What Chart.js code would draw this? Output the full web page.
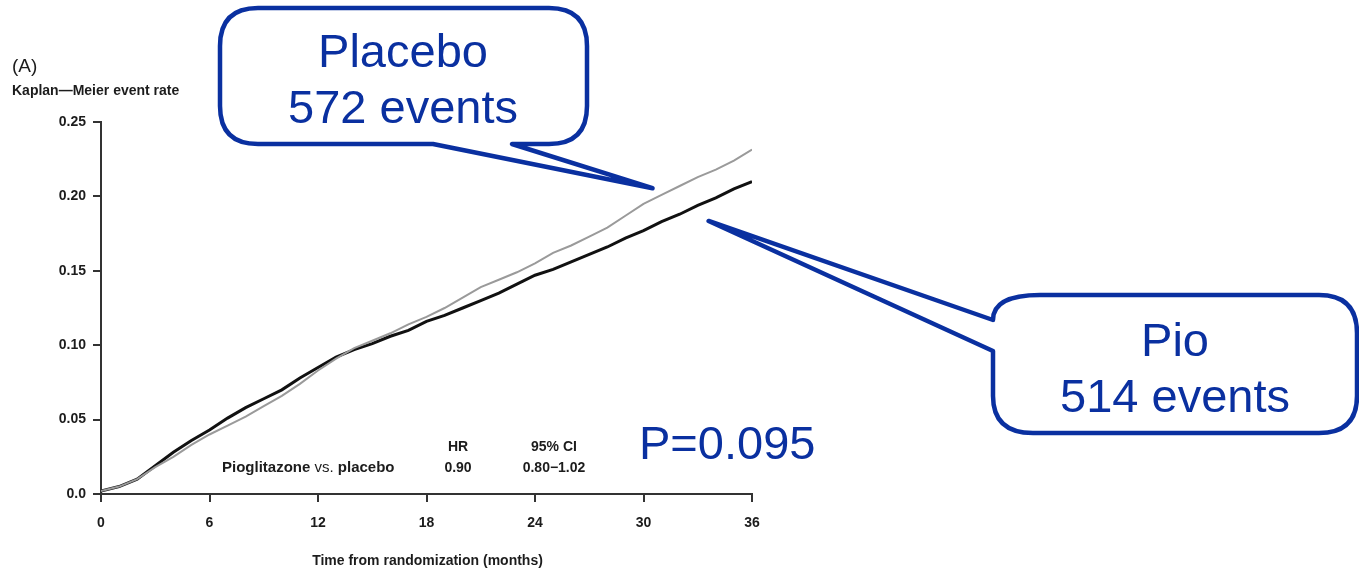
<!DOCTYPE html>
<html>
<head>
<meta charset="utf-8">
<title>Kaplan–Meier event rate: Pioglitazone vs placebo</title>
<script src="https://cdn.jsdelivr.net/npm/chart.js@4"></script>
<style>
  html, body { margin: 0; padding: 0; background: #ffffff; }
  #wrap { width: 1359px; height: 572px; position: relative; }
</style>
</head>
<body>
<div id="wrap"><canvas id="km" width="1359" height="572"></canvas></div>
<script>
// Follow-up time (months)
const months = [0, 1, 2, 3, 4, 5, 6, 7, 8, 9, 10, 11, 12, 13, 14, 15, 16, 17, 18,
                19, 20, 21, 22, 23, 24, 25, 26, 27, 28, 29, 30, 31, 32, 33, 34, 35, 36];

// Kaplan–Meier cumulative event rate, pioglitazone arm
const pioRate = [0.002, 0.005, 0.010, 0.019, 0.028, 0.036, 0.043, 0.051, 0.058, 0.064,
                 0.070, 0.078, 0.085, 0.092, 0.097, 0.101, 0.106, 0.110, 0.116, 0.120,
                 0.125, 0.130, 0.135, 0.141, 0.147, 0.151, 0.156, 0.161, 0.166, 0.172,
                 0.177, 0.183, 0.188, 0.194, 0.199, 0.205, 0.210];

// Kaplan–Meier cumulative event rate, placebo arm
const placeboRate = [0.002, 0.005, 0.010, 0.018, 0.025, 0.033, 0.040, 0.046, 0.052, 0.059,
                     0.066, 0.074, 0.083, 0.091, 0.098, 0.103, 0.108, 0.114, 0.119, 0.125,
                     0.132, 0.139, 0.144, 0.149, 0.155, 0.162, 0.167, 0.173, 0.179, 0.187,
                     0.195, 0.201, 0.207, 0.213, 0.218, 0.224, 0.2315];

const xTickValues = [0, 6, 12, 18, 24, 30, 36];
const yTickValues = [0, 0.05, 0.10, 0.15, 0.20, 0.25];
const yTickLabels = ['0.0', '0.05', '0.10', '0.15', '0.20', '0.25'];

const seriesNames = ['Pio', 'Placebo'];
const eventCounts = [514, 572];
const hazardRatio = '0.90';
const confInterval = '0.80\u22121.02';
const pValue = 'P=0.095';

const INK = '#1c1c1c';
const BLUE = '#0a30a0';

function toPoints(xs, ys) {
  return xs.map((x, i) => ({ x: x, y: ys[i] }));
}

// Text and call-out bubbles drawn on top of the plot
const annotationsPlugin = {
  id: 'kmAnnotations',
  afterDraw(chart) {
    const ctx = chart.ctx;
    const area = chart.chartArea;
    ctx.save();
    ctx.fillStyle = INK;
    ctx.textBaseline = 'middle';

    // panel letter and y-axis caption
    ctx.textAlign = 'left';
    ctx.font = '19px "Liberation Sans", Arial, sans-serif';
    ctx.fillText('(A)', 12, 67);
    ctx.font = 'bold 14px "Liberation Sans", Arial, sans-serif';
    ctx.fillText('Kaplan\u2014Meier event rate', 12, 91);

    // x-axis caption
    ctx.textAlign = 'center';
    ctx.font = 'bold 14px "Liberation Sans", Arial, sans-serif';
    ctx.fillText('Time from randomization (months)', (area.left + area.right) / 2 + 1, 561);

    // comparison table
    const rowA = 447, rowB = 468;
    ctx.font = 'bold 14px "Liberation Sans", Arial, sans-serif';
    ctx.fillText('HR', 458, rowA);
    ctx.fillText(hazardRatio, 458, rowB);
    ctx.fillText('95% CI', 554, rowA);
    ctx.fillText(confInterval, 554, rowB);

    ctx.textAlign = 'left';
    let x = 222;
    const parts = [['Pioglitazone ', 'bold'], ['vs. ', 'normal'], ['placebo', 'bold']];
    parts.forEach(([t, w]) => {
      ctx.font = w + ' 15px "Liberation Sans", Arial, sans-serif';
      ctx.fillText(t, x, rowB);
      x += ctx.measureText(t).width;
    });

    // p-value
    ctx.fillStyle = BLUE;
    ctx.textBaseline = 'alphabetic';
    ctx.font = '47px "Liberation Sans", Arial, sans-serif';
    ctx.fillText(pValue, 639, 459);

    // call-out bubbles
    ctx.strokeStyle = BLUE;
    ctx.lineWidth = 4.5;
    ctx.lineJoin = 'round';

    // placebo bubble, pointer leaves from the bottom edge
    const tipPlacebo = [chart.scales.x.getPixelForValue(30.5), chart.scales.y.getPixelForValue(0.2055)];
    ctx.beginPath();
    ctx.moveTo(512, 144);
    ctx.lineTo(549, 144);
    ctx.quadraticCurveTo(587, 144, 587, 106);
    ctx.lineTo(587, 46);
    ctx.quadraticCurveTo(587, 8, 549, 8);
    ctx.lineTo(258, 8);
    ctx.quadraticCurveTo(220, 8, 220, 46);
    ctx.lineTo(220, 106);
    ctx.quadraticCurveTo(220, 144, 258, 144);
    ctx.lineTo(433, 144);
    ctx.lineTo(tipPlacebo[0], tipPlacebo[1]);
    ctx.closePath();
    ctx.fillStyle = '#ffffff';
    ctx.fill();
    ctx.stroke();

    // pioglitazone bubble, pointer leaves from the left edge
    const tipPio = [chart.scales.x.getPixelForValue(33.6), chart.scales.y.getPixelForValue(0.1835)];
    ctx.beginPath();
    ctx.moveTo(993, 351);
    ctx.lineTo(993, 396);
    ctx.quadraticCurveTo(993, 433, 1033, 433);
    ctx.lineTo(1319, 433);
    ctx.quadraticCurveTo(1357, 433, 1357, 396);
    ctx.lineTo(1357, 333);
    ctx.quadraticCurveTo(1357, 295, 1319, 295);
    ctx.lineTo(1040, 295);
    ctx.quadraticCurveTo(993, 295, 993, 320);
    ctx.lineTo(tipPio[0], tipPio[1]);
    ctx.closePath();
    ctx.fill();
    ctx.stroke();

    ctx.fillStyle = BLUE;
    ctx.textAlign = 'center';
    ctx.font = '47px "Liberation Sans", Arial, sans-serif';
    ctx.fillText(seriesNames[1], 403, 67);
    ctx.fillText(eventCounts[1] + ' events', 403, 123);
    ctx.fillText(seriesNames[0], 1175, 356);
    ctx.fillText(eventCounts[0] + ' events', 1175, 412);

    ctx.restore();
  }
};

new Chart(document.getElementById('km'), {
  type: 'line',
  data: {
    datasets: [
      {
        label: seriesNames[1],
        data: toPoints(months, placeboRate),
        borderColor: '#9a9a9a',
        borderWidth: 2,
        pointRadius: 0,
        tension: 0,
        fill: false
      },
      {
        label: seriesNames[0],
        data: toPoints(months, pioRate),
        borderColor: '#111111',
        borderWidth: 3,
        pointRadius: 0,
        tension: 0,
        fill: false
      }
    ]
  },
  options: {
    responsive: false,
    animation: false,
    devicePixelRatio: 1,
    layout: { padding: { left: 0, right: 607, top: 122, bottom: 38 } },
    plugins: {
      legend: { display: false },
      tooltip: { enabled: false },
      title: { display: false }
    },
    scales: {
      x: {
        type: 'linear',
        min: 0,
        max: 36,
        afterFit(scale) { scale.height = 40; },
        afterBuildTicks(scale) { scale.ticks = xTickValues.map(v => ({ value: v })); },
        border: { display: true, color: '#333333', width: 2 },
        grid: { display: true, drawOnChartArea: false, drawTicks: true, tickLength: 8, color: '#333333', lineWidth: 2 },
        ticks: {
          padding: 13,
          color: INK,
          font: { family: '"Liberation Sans", Arial, sans-serif', size: 14, weight: 'bold' },
          maxRotation: 0,
          callback: (v) => String(v)
        }
      },
      y: {
        type: 'linear',
        min: 0,
        max: 0.25,
        afterFit(scale) { scale.width = 101; },
        afterBuildTicks(scale) { scale.ticks = yTickValues.map(v => ({ value: v })); },
        border: { display: true, color: '#333333', width: 2 },
        grid: { display: true, drawOnChartArea: false, drawTicks: true, tickLength: 8, color: '#333333', lineWidth: 2 },
        ticks: {
          padding: 7,
          color: INK,
          font: { family: '"Liberation Sans", Arial, sans-serif', size: 14, weight: 'bold' },
          callback: (v) => {
            const i = yTickValues.findIndex(t => Math.abs(t - v) < 1e-9);
            return i >= 0 ? yTickLabels[i] : '';
          }
        }
      }
    }
  },
  plugins: [annotationsPlugin]
});
</script>
</body>
</html>
